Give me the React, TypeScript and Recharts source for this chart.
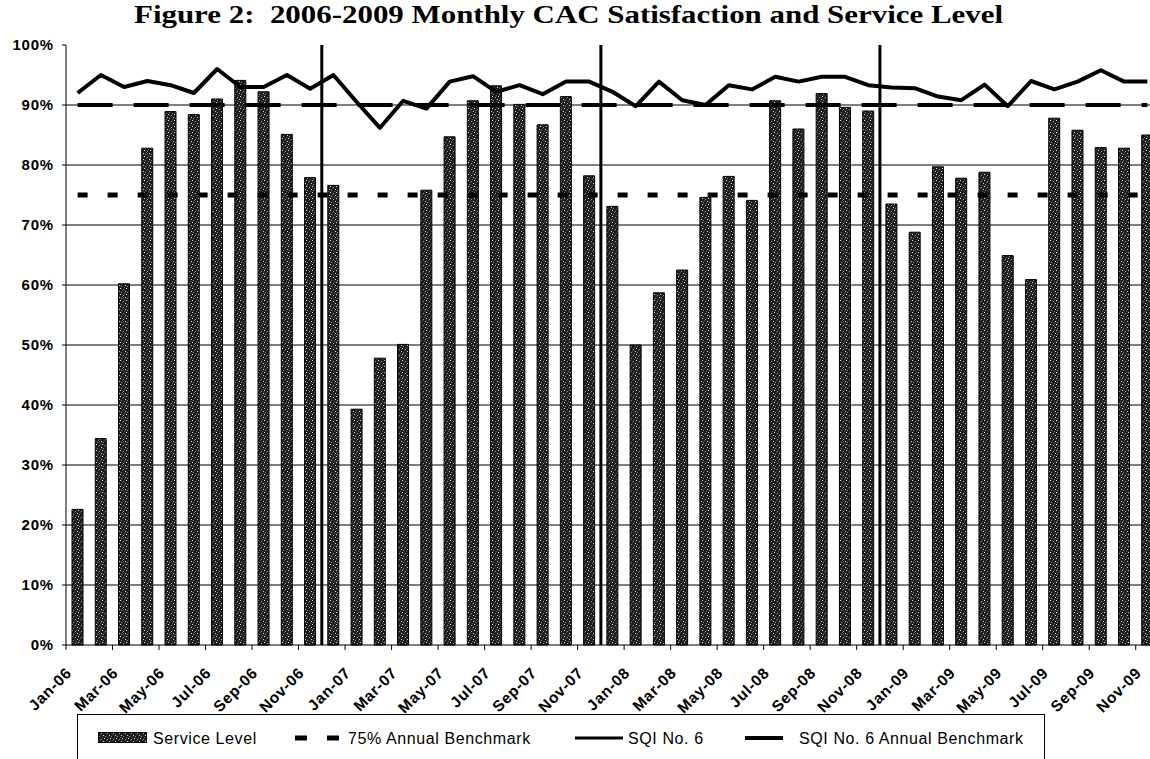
import React from 'react';
import {
  ComposedChart,
  Bar,
  Line,
  XAxis,
  YAxis,
  CartesianGrid,
  ReferenceLine,
  Legend,
} from 'recharts';

// ---- data ----------------------------------------------------------------

const months = [
  'Jan-06', 'Feb-06', 'Mar-06', 'Apr-06', 'May-06', 'Jun-06', 'Jul-06', 'Aug-06', 'Sep-06', 'Oct-06', 'Nov-06', 'Dec-06',
  'Jan-07', 'Feb-07', 'Mar-07', 'Apr-07', 'May-07', 'Jun-07', 'Jul-07', 'Aug-07', 'Sep-07', 'Oct-07', 'Nov-07', 'Dec-07',
  'Jan-08', 'Feb-08', 'Mar-08', 'Apr-08', 'May-08', 'Jun-08', 'Jul-08', 'Aug-08', 'Sep-08', 'Oct-08', 'Nov-08', 'Dec-08',
  'Jan-09', 'Feb-09', 'Mar-09', 'Apr-09', 'May-09', 'Jun-09', 'Jul-09', 'Aug-09', 'Sep-09', 'Oct-09', 'Nov-09',
];

// Service Level (%), monthly
const serviceLevel = [
  22.6, 34.4, 60.2, 82.8, 88.9, 88.4, 91.0, 94.1, 92.2, 85.1, 77.9, 76.6,
  39.3, 47.8, 50.1, 75.8, 84.7, 90.7, 93.2, 90.1, 86.7, 91.4, 78.2, 73.1,
  50.0, 58.7, 62.5, 74.6, 78.1, 74.1, 90.7, 86.0, 91.9, 89.6, 89.0, 73.5,
  68.8, 79.7, 77.8, 78.8, 64.9, 60.9, 87.8, 85.8, 82.9, 82.8, 85.0,
];

// SQI No. 6 (%), monthly
const sqiNo6 = [
  92.0, 95.0, 93.0, 94.0, 93.3, 92.0, 96.0, 93.0, 93.0, 95.0, 92.7, 95.0,
  90.5, 86.2, 90.7, 89.4, 93.9, 94.8, 92.2, 93.3, 91.8, 93.9, 93.9, 92.2,
  89.8, 93.9, 90.8, 90.0, 93.3, 92.6, 94.7, 93.9, 94.7, 94.7, 93.3, 92.9,
  92.8, 91.4, 90.8, 93.4, 89.8, 94.0, 92.6, 93.9, 95.8, 93.9, 93.9,
];

const SERVICE_BENCHMARK = 75; // 75% Annual Benchmark
const SQI_BENCHMARK = 90; // SQI No. 6 Annual Benchmark

const yTicks = [0, 10, 20, 30, 40, 50, 60, 70, 80, 90, 100];
const gridValues = [10, 20, 30, 40, 50, 60, 70, 80, 90];

// year separators sit at the end of these months
const yearDividers = ['Nov-06', 'Nov-07', 'Nov-08'];

const data = months.map((month, i) => ({
  month,
  service: serviceLevel[i],
  sqi: sqiNo6[i],
  serviceBenchmark: SERVICE_BENCHMARK,
  sqiBenchmark: SQI_BENCHMARK,
}));

// ---- layout ----------------------------------------------------------------

const CHART_W = 1159;
const CHART_H = 759;
const Y_AXIS_W = 66;
const HALF_BAND = (CHART_W - Y_AXIS_W) / months.length / 2;

const SANS = "'Liberation Sans', Arial, sans-serif";

const MonthTick = (props: any) => {
  const { x, y, payload } = props;
  return (
    <g>
      <line x1={x - HALF_BAND} x2={x - HALF_BAND} y1={y} y2={y + 5} stroke="#000" strokeWidth={1} />
      <text
        x={0}
        y={0}
        transform={`translate(${x - 5},${y + 29}) rotate(-45)`}
        textAnchor="end"
        fontFamily={SANS}
        fontWeight="bold"
        fontSize={15.5}
        letterSpacing={0.7}
        fill="#000"
      >
        {payload.value}
      </text>
    </g>
  );
};

const legendText: React.CSSProperties = {
  position: 'absolute',
  top: 16,
  fontFamily: SANS,
  fontSize: 16,
  lineHeight: '16px',
  letterSpacing: 0.6,
  color: '#000',
  whiteSpace: 'nowrap',
};

const LegendBox = () => (
  <div
    style={{
      position: 'relative',
      width: 968,
      height: 60,
      boxSizing: 'border-box',
      border: '1.5px solid #000',
      background: '#fff',
    }}
  >
    <svg style={{ position: 'absolute', left: 20, top: 17 }} width={49} height={11}>
      <rect x={0.5} y={0.5} width={48} height={10} fill="url(#speckle)" stroke="#000" />
    </svg>
    <span style={{ ...legendText, left: 75 }}>Service Level</span>

    <svg style={{ position: 'absolute', left: 217, top: 18 }} width={44} height={10}>
      <line x1={0} x2={44} y1={5} y2={5} stroke="#000" strokeWidth={5} strokeDasharray="12 20" />
    </svg>
    <span style={{ ...legendText, left: 270 }}>75% Annual Benchmark</span>

    <svg style={{ position: 'absolute', left: 497, top: 18 }} width={48} height={10}>
      <line x1={0} x2={48} y1={5} y2={5} stroke="#000" strokeWidth={3} />
    </svg>
    <span style={{ ...legendText, left: 550 }}>SQI No. 6</span>

    <svg style={{ position: 'absolute', left: 667, top: 18 }} width={38} height={10}>
      <line x1={0} x2={38} y1={5} y2={5} stroke="#000" strokeWidth={4} />
    </svg>
    <span style={{ ...legendText, left: 721 }}>SQI No. 6 Annual Benchmark</span>
  </div>
);

export default function App() {
  return (
    <div
      style={{
        position: 'absolute',
        left: 0,
        top: 0,
        width: 1150,
        height: 759,
        overflow: 'hidden',
        background: '#fff',
      }}
    >
      {/* stippled fill used by the Service Level bars */}
      <svg width={0} height={0} style={{ position: 'absolute' }}>
        <defs>
          <pattern id="speckle" patternUnits="userSpaceOnUse" width={6} height={6}>
            <rect x={0} y={0} width={6} height={6} fill="#1e1e1e" />
            <rect x={0} y={0} width={1} height={1} fill="#e0e0e0" />
            <rect x={3} y={1} width={1} height={1} fill="#9a9a9a" />
            <rect x={5} y={3} width={1} height={1} fill="#d0d0d0" />
            <rect x={1} y={4} width={1} height={1} fill="#8a8a8a" />
            <rect x={4} y={5} width={1} height={1} fill="#5a5a5a" />
            <rect x={2} y={2} width={1} height={1} fill="#4a4a4a" />
          </pattern>
        </defs>
      </svg>

      <svg width={1150} height={40} style={{ position: 'absolute', left: 0, top: 0 }}>
        <text
          x={134}
          y={23}
          textLength={869}
          lengthAdjust="spacingAndGlyphs"
          fontFamily="'Liberation Serif', 'Times New Roman', serif"
          fontWeight="bold"
          fontSize={25}
          fill="#000"
          style={{ whiteSpace: 'pre' }}
        >
          Figure 2:  2006-2009 Monthly CAC Satisfaction and Service Level
        </text>
      </svg>

      <div style={{ position: 'absolute', left: 0, top: 0 }}>
        <ComposedChart
          width={CHART_W}
          height={CHART_H}
          data={data}
          margin={{ top: 45, right: 0, bottom: 34, left: 0 }}
          barCategoryGap={0}
        >
          <CartesianGrid
            vertical={false}
            horizontalValues={gridValues}
            stroke="#000"
            strokeWidth={1}
          />
          <XAxis
            dataKey="month"
            interval={1}
            height={80}
            tickLine={false}
            tickSize={0}
            tickMargin={0}
            axisLine={{ stroke: '#000', strokeWidth: 1 }}
            tick={<MonthTick />}
          />
          <YAxis
            type="number"
            domain={[0, 100]}
            ticks={yTicks}
            width={Y_AXIS_W}
            tickFormatter={(v: number) => `${v}%`}
            tickSize={4}
            tickMargin={8}
            axisLine={{ stroke: '#000', strokeWidth: 1 }}
            tickLine={{ stroke: '#000', strokeWidth: 1 }}
            tick={{ fill: '#000', fontSize: 15, fontWeight: 'bold', fontFamily: SANS, letterSpacing: 0.8 }}
          />
          <Bar
            dataKey="service"
            name="Service Level"
            fill="url(#speckle)"
            stroke="#000"
            strokeWidth={1}
            barSize={11}
            isAnimationActive={false}
          />
          <Line
            dataKey="serviceBenchmark"
            name="75% Annual Benchmark"
            type="linear"
            stroke="#000"
            strokeWidth={5}
            strokeDasharray="10 20"
            dot={false}
            activeDot={false}
            isAnimationActive={false}
          />
          <Line
            dataKey="sqiBenchmark"
            name="SQI No. 6 Annual Benchmark"
            type="linear"
            stroke="#000"
            strokeWidth={4}
            strokeDasharray="35 21"
            dot={false}
            activeDot={false}
            isAnimationActive={false}
          />
          <Line
            dataKey="sqi"
            name="SQI No. 6"
            type="linear"
            stroke="#000"
            strokeWidth={4}
            strokeLinejoin="round"
            dot={false}
            activeDot={false}
            isAnimationActive={false}
          />
          {yearDividers.map((m) => (
            <ReferenceLine key={m} x={m} position="end" stroke="#000" strokeWidth={3} />
          ))}
          <Legend
            layout="horizontal"
            align="center"
            verticalAlign="middle"
            wrapperStyle={{ left: 77, top: 714, width: 968, height: 60 }}
            content={() => <LegendBox />}
          />
        </ComposedChart>
      </div>
    </div>
  );
}
